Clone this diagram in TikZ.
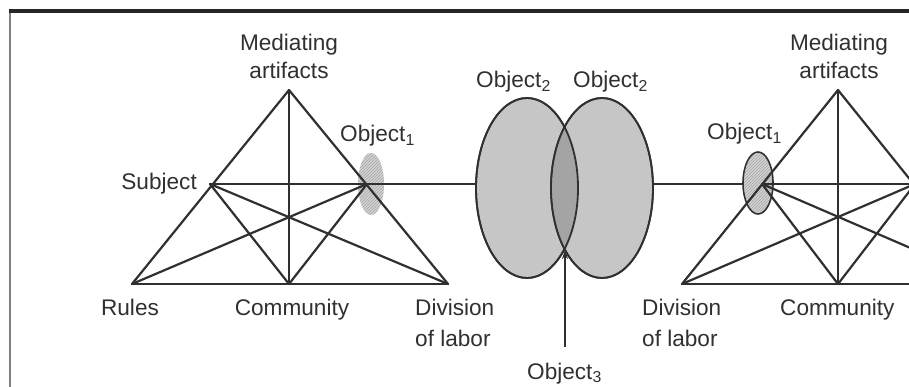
\documentclass[tikz,border=0pt]{standalone}
\usepackage{fontspec}
\setmainfont{Liberation Sans}
\usetikzlibrary{shapes.geometric,patterns,arrows.meta}
\definecolor{ink}{HTML}{303030}
\definecolor{shade}{HTML}{C6C6C6}
\definecolor{lensgray}{HTML}{A4A4A4}
\definecolor{hatchbg}{HTML}{D2D2D2}
\definecolor{hatchln}{HTML}{A6A6A6}
\begin{document}
\begin{tikzpicture}[x=1pt,y=-1pt,
  edge/.style={draw=ink, line width=2.2pt, line cap=round},
  lbl/.style={font=\fontsize{22.6}{27}\selectfont, text=ink, inner sep=0pt},
  bigobj/.style={ellipse, draw=ink, line width=1.8pt, fill=shade, inner sep=0pt,
    minimum width=102pt, minimum height=180pt},
  smallobj/.style={ellipse, inner sep=0pt, minimum width=#1},
  hatch/.style={pattern=north east lines, pattern color=hatchln}]
\useasboundingbox (0,0) rectangle (909,387);

% page frame
\fill[black!85] (9,9) rectangle (909,13);
\draw[gray, line width=1.2pt] (10,13) -- (10,387);

% ---- left activity system ----
\coordinate (lMA) at (289,90);
\coordinate (lS)  at (210,184);
\coordinate (lO)  at (367,184);
\coordinate (lR)  at (132,284);
\coordinate (lC)  at (289,284);
\coordinate (lD)  at (448,284);

\node[smallobj=26pt, minimum height=62pt, fill=hatchbg] (lobj) at (371,184) {};
\fill[hatch] (371,184) ellipse (13pt and 31pt);

\draw[edge] (lMA) -- (lR);
\draw[edge] (lMA) -- (lD);
\draw[edge] (lMA) -- (lC);
\draw[edge] (lR) -- (lD);
\draw[edge] (lS) -- (lO);
\draw[edge] (lS) -- (lC);
\draw[edge] (lS) -- (lD);
\draw[edge] (lO) -- (lR);
\draw[edge] (lO) -- (lC);

% ---- shared objects ----
\node[bigobj] (e1) at (527,188) {};
\node[bigobj] (e2) at (602,188) {};
\begin{scope}
  \clip (527,188) ellipse (51pt and 90pt);
  \fill[lensgray] (602,188) ellipse (50pt and 90pt);
\end{scope}
\draw[ink, line width=1.8pt] (527,188) ellipse (51pt and 90pt);
\draw[ink, line width=1.8pt] (602,188) ellipse (51pt and 90pt);
\coordinate (lensbot) at (565,250);

% ---- right activity system ----
\coordinate (rMA) at (838,90);
\coordinate (rO)  at (762,184);
\coordinate (rD)  at (682,284);
\coordinate (rC)  at (838,284);
\coordinate (rS)  at (915,184);
\coordinate (rR)  at (994,284);

\draw[edge] (lO) -- (e1.west |- lO);
\draw[edge] (e2.east |- rO) -- (rO);

\node[smallobj=30pt, minimum height=62pt, fill=hatchbg, draw=ink, line width=1.6pt] (robj) at (758,183) {};
\fill[hatch] (758,183) ellipse (14pt and 30pt);

\begin{scope}
  \clip (0,0) rectangle (909,387);
  \draw[edge] (rMA) -- (rD);
  \draw[edge] (rMA) -- (rR);
  \draw[edge] (rMA) -- (rC);
  \draw[edge] (rD) -- (rR);
  \draw[edge] (rO) -- (rS);
  \draw[edge] (rS) -- (rC);
  \draw[edge] (rS) -- (rD);
  \draw[edge] (rO) -- (rR);
  \draw[edge] (rO) -- (rC);
\end{scope}

% ---- labels ----
\node[lbl, anchor=base] (lmed) at (289,51) {Mediating};
\node[lbl, anchor=base] (lart) at (289,79) {artifacts};
\node[lbl, anchor=base east] (lsub) at (197,190) {Subject};
\node[lbl, anchor=base west] (lobjt) at (340,142) {Object\textsubscript{1}};
\node[lbl, anchor=base] (lrul) at (130,315) {Rules};
\node[lbl, anchor=base] (lcom) at (292,315) {Community};
\node[lbl, anchor=base west] (ldiv) at (415,315) {Division};
\node[lbl, anchor=base west] (llab) at (415,346) {of labor};

\node[lbl, anchor=base west] (o2a) at (476,88) {Object\textsubscript{2}};
\node[lbl, anchor=base west] (o2b) at (573,88) {Object\textsubscript{2}};
\node[lbl, anchor=base west] (o3) at (527,379) {Object\textsubscript{3}};
\draw[ink, line width=1.1pt, -{Stealth[length=9pt,width=6pt]}] (lensbot |- 0,347) -- (lensbot);

\node[lbl, anchor=base west] (robjt) at (707,140) {Object\textsubscript{1}};
\node[lbl, anchor=base] (rmed) at (839,51) {Mediating};
\node[lbl, anchor=base] (rart) at (839,79) {artifacts};
\node[lbl, anchor=base west] (rdiv) at (642,315) {Division};
\node[lbl, anchor=base west] (rlab) at (642,346) {of labor};
\node[lbl, anchor=base west] (rcom) at (780,315) {Community};
\end{tikzpicture}
\end{document}
